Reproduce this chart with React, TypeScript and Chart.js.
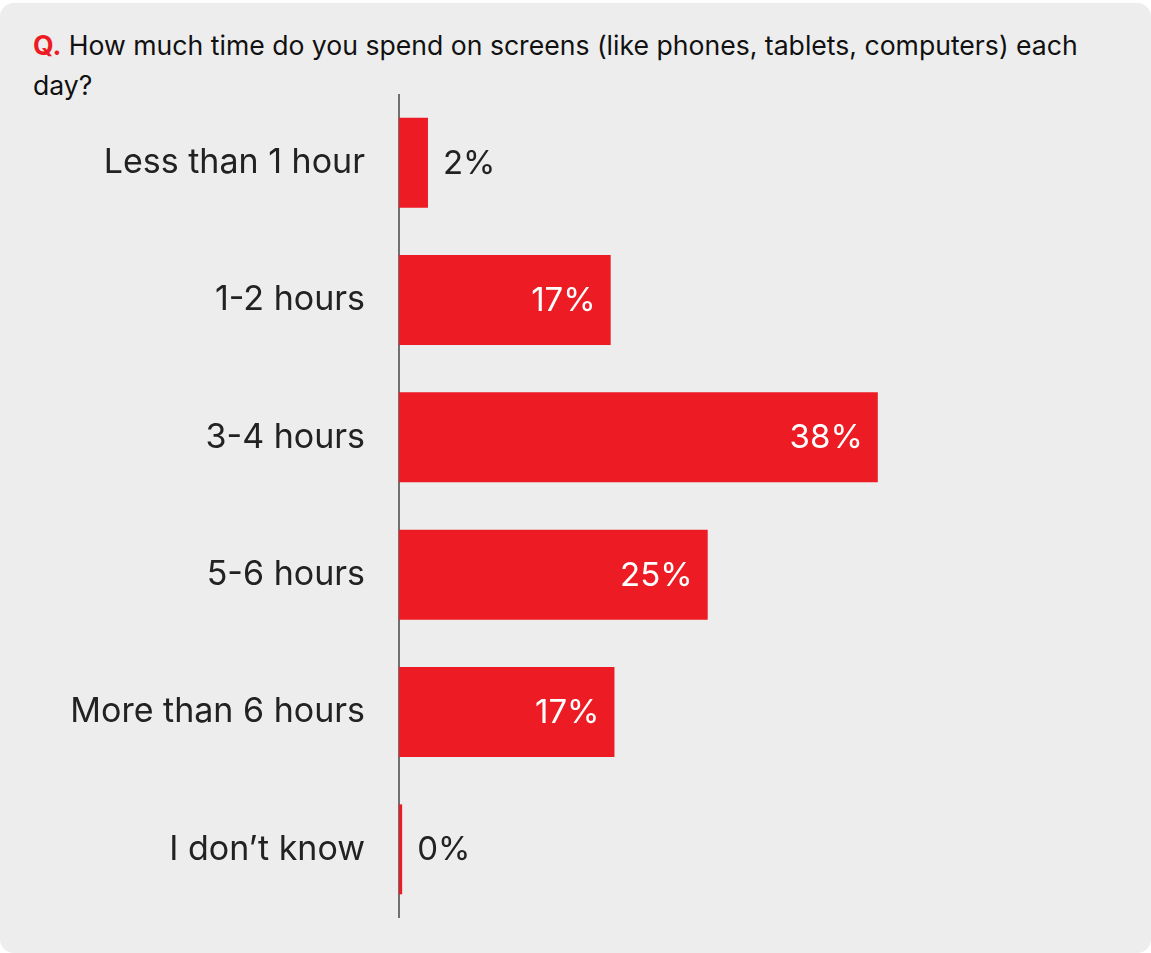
import React, { useEffect, useRef } from "react";
import { Chart, registerables } from "chart.js";

Chart.register(...registerables);

const categories = [
  "Less than 1 hour",
  "1-2 hours",
  "3-4 hours",
  "5-6 hours",
  "More than 6 hours",
  "I don\u2019t know",
];
const shares = [2.3, 16.8, 38.0, 24.5, 17.1, 0.25];
const xMax = 50;

const FONT = "Inter, 'Open Sans', sans-serif";
const RED = "#ED1C24";

const valueLabels = {
  id: "valueLabels",
  afterDatasetsDraw(chart: any) {
    const ctx = chart.ctx;
    const meta = chart.getDatasetMeta(0);
    ctx.save();
    ctx.font = `33px ${FONT}`;
    ctx.textBaseline = "middle";
    meta.data.forEach((bar: any, i: number) => {
      const v = shares[i];
      const text = `${Math.round(v)}%`;
      if (v > 5) {
        ctx.fillStyle = "#FFFFFF";
        ctx.textAlign = "right";
        ctx.fillText(text, bar.x - 15, bar.y + 1);
      } else {
        ctx.fillStyle = "#222222";
        ctx.textAlign = "left";
        ctx.fillText(text, bar.x + 15, bar.y + 1);
      }
    });
    ctx.restore();
  },
};

export default function App() {
  const ref = useRef<HTMLCanvasElement>(null);
  useEffect(() => {
    if (!ref.current) return;
    const chart = new Chart(ref.current, {
      type: "bar",
      data: {
        labels: categories,
        datasets: [
          {
            data: shares,
            backgroundColor: RED,
            borderWidth: 0,
            categoryPercentage: 1,
            barPercentage: 0.655,
          },
        ],
      },
      options: {
        indexAxis: "y",
        animation: false,
        responsive: false,
        maintainAspectRatio: false,
        layout: { padding: { left: 0, right: 1151 - (399 + xMax * 12.6), top: 0, bottom: 0 } },
        plugins: {
          legend: { display: false },
          tooltip: { enabled: false },
          title: { display: false },
        },
        scales: {
          x: { display: false, min: 0, max: xMax },
          y: {
            z: 1,
            grid: { display: false, drawTicks: false, tickLength: 0 },
            border: { display: true, color: "rgba(0,0,0,0.53)", width: 2 },
            ticks: {
              color: "#222222",
              font: { family: FONT, size: 34 },
              padding: 34,
            },
            afterFit(scale: any) {
              scale.width = 399;
              scale.paddingTop = 0;
              scale.paddingBottom = 0;
            },
          },
        },
      },
      plugins: [valueLabels],
    });
    return () => chart.destroy();
  }, []);

  return (
    <div
      style={{
        position: "absolute",
        left: 0,
        top: 3,
        width: 1151,
        height: 950,
        background: "#EDEDED",
        borderRadius: 14,
        overflow: "hidden",
      }}
    >
      <div
        style={{
          position: "absolute",
          left: 33,
          top: 22,
          width: 1090,
          fontFamily: FONT,
          fontSize: 26.6,
          lineHeight: "40px",
          color: "#111111",
        }}
      >
        <span style={{ color: RED, fontWeight: 700 }}>Q.</span> How much time do you spend on screens (like
        phones, tablets, computers) each day?
      </div>
      <canvas
        ref={ref}
        width={1151}
        height={824}
        style={{ position: "absolute", left: 0, top: 91, width: 1151, height: 824 }}
      />
    </div>
  );
}
